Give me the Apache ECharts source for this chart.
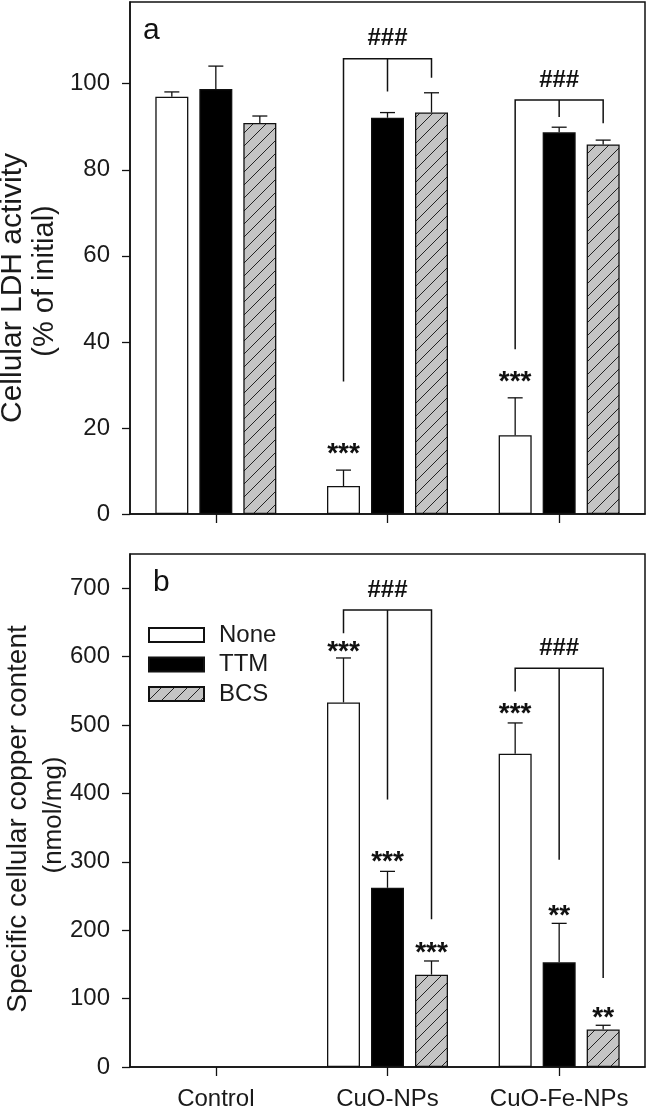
<!DOCTYPE html>
<html><head><meta charset="utf-8">
<script src="https://cdn.jsdelivr.net/npm/echarts@6/dist/echarts.min.js"></script>
<style>html,body{margin:0;padding:0;background:#fff}#c{width:648px;height:1111px}</style>
</head><body><div id="c"></div>
<script>
const categories = ['Control', 'CuO-NPs', 'CuO-Fe-NPs'];
const seriesNames = ['None', 'TTM', 'BCS'];
// panel a: cellular LDH activity (% of initial)
const ldhNone = [97.0, 6.5, 18.3];
const ldhNoneErr = [1.1, 3.7, 8.7];
const ldhTTM = [98.8, 92.1, 88.7];
const ldhTTMErr = [5.3, 1.2, 1.2];
const ldhBCS = [90.9, 93.3, 85.9];
const ldhBCSErr = [1.6, 4.6, 1.0];
// panel b: specific cellular copper content (nmol/mg)
const cuNone = [null, 533, 458];
const cuNoneErr = [null, 65, 45];
const cuTTM = [null, 262, 153];
const cuTTMErr = [null, 24, 57];
const cuBCS = [null, 135, 55];
const cuBCSErr = [null, 20, 6];
// tick labels
const ldhTicks = [0, 20, 40, 60, 80, 100];
const cuTicks = [0, 100, 200, 300, 400, 500, 600, 700];
// significance brackets: [category, top, leg end None, leg end TTM, leg end BCS]
const bracketsA = [[1, 105.8, 30.8, 98.2, 101.4], [2, 96.2, 38.3, 92.3, 90.8]];
const bracketsB = [[1, 668, 634, 391, 216], [2, 583, 549, 303, 130]];
// significance labels: [category, bar index, value, text]
const marksA = [[1, 1, 110.6, '###'], [2, 1, 100.9, '###'], [1, 0, 15.6, '***'], [2, 0, 32.3, '***']];
const marksB = [[1, 1, 697, '###'], [2, 1, 612, '###'],
  [1, 0, 616, '***'], [1, 1, 310, '***'], [1, 2, 177, '***'],
  [2, 0, 526, '***'], [2, 1, 230, '**'], [2, 2, 81, '**']];

const FONT = '"Liberation Sans", Arial, Helvetica, sans-serif';
const BAR_W = 33, BAR_GAP = 11, PITCH = BAR_W + BAR_GAP, CAP = 15;
const INK = '#111';

function hatch() {
  const s = 13, c = document.createElement('canvas');
  c.width = s; c.height = s;
  const g = c.getContext('2d');
  g.fillStyle = '#c4c4c4'; g.fillRect(0, 0, s, s);
  g.strokeStyle = '#222'; g.lineWidth = 1;
  g.beginPath();
  g.moveTo(-1, s + 1); g.lineTo(s + 1, -1);
  g.moveTo(-1, 1); g.lineTo(1, -1);
  g.moveTo(s - 1, s + 1); g.lineTo(s + 1, s - 1);
  g.stroke();
  return {image: c, repeat: 'repeat'};
}
const barStyles = [
  {color: '#fff', borderColor: INK, borderWidth: 1.3},
  {color: '#000', borderColor: INK, borderWidth: 1.3},
  {color: hatch(), borderColor: INK, borderWidth: 1.3}
];

function barSeries(g, name, idx, vals) {
  return {type: 'bar', name, xAxisIndex: g, yAxisIndex: g, data: vals, barWidth: BAR_W,
    barGap: (BAR_GAP / BAR_W * 100) + '%', itemStyle: barStyles[idx], z: 2, silent: true};
}
function errSeries(g, idx, means, errs) {
  const data = [];
  means.forEach((m, i) => { if (m != null) data.push([i, m, m + errs[i]]); });
  return {type: 'custom', xAxisIndex: g, yAxisIndex: g, z: 3, silent: true, data,
    renderItem(p, api) {
      const b = api.coord([api.value(0), api.value(1)]);
      const t = api.coord([api.value(0), api.value(2)]);
      const x = b[0] + (idx - 1) * PITCH;
      const st = {stroke: INK, lineWidth: 1.3};
      return {type: 'group', children: [
        {type: 'line', shape: {x1: x, y1: b[1], x2: x, y2: t[1]}, style: st},
        {type: 'line', shape: {x1: x - CAP / 2, y1: t[1], x2: x + CAP / 2, y2: t[1]}, style: st}
      ]};
    }};
}
function bracketSeries(g, data) {
  return {type: 'custom', xAxisIndex: g, yAxisIndex: g, z: 4, silent: true, data,
    renderItem(p, api) {
      const c = api.value(0);
      const top = api.coord([c, api.value(1)]);
      const xs = [0, 1, 2].map(i => top[0] + (i - 1) * PITCH);
      const ly = [2, 3, 4].map(k => api.coord([c, api.value(k)])[1]);
      const st = {stroke: INK, lineWidth: 1.5, fill: null};
      return {type: 'group', children: [
        {type: 'polyline', shape: {points: [[xs[0], ly[0]], [xs[0], top[1]], [xs[2], top[1]], [xs[2], ly[2]]]}, style: st},
        {type: 'line', shape: {x1: xs[1], y1: top[1], x2: xs[1], y2: ly[1]}, style: st}
      ]};
    }};
}
function markSeries(g, data) {
  return {type: 'custom', xAxisIndex: g, yAxisIndex: g, z: 5, silent: true,
    data: data.map(d => [d[0], d[1], d[2]]),
    renderItem(p, api) {
      const d = data[p.dataIndex];
      const pt = api.coord([d[0], d[2]]);
      const star = d[3].indexOf('*') >= 0;
      return {type: 'text', x: pt[0] + (d[1] - 1) * PITCH, y: pt[1] + (star ? 7 : 0),
        style: {text: d[3], font: 'bold ' + (star ? 28 : 24) + 'px ' + FONT, fill: INK,
          textAlign: 'center', textVerticalAlign: 'middle'}};
    }};
}

const axisLine = {show: true, lineStyle: {color: INK, width: 1.5}};
const chart = echarts.init(document.getElementById('c'), null, {renderer: 'canvas'});
chart.setOption({
  animation: false,
  backgroundColor: '#fff',
  grid: [
    {left: 130, right: 3, top: 2, height: 512, show: true, borderColor: INK, borderWidth: 1.5, backgroundColor: 'transparent'},
    {left: 130, right: 3, top: 554, height: 513, show: true, borderColor: INK, borderWidth: 1.5, backgroundColor: 'transparent'}
  ],
  xAxis: [
    {type: 'category', gridIndex: 0, data: categories, axisLine,
      axisTick: {show: true, alignWithLabel: true, interval: 0, length: 9, lineStyle: {color: INK, width: 1.3}},
      axisLabel: {show: false, interval: 0}, splitLine: {show: false}},
    {type: 'category', gridIndex: 1, data: categories, axisLine,
      axisTick: {show: true, alignWithLabel: true, interval: 0, length: 9, lineStyle: {color: INK, width: 1.3}},
      axisLabel: {show: true, interval: 0, hideOverlap: false, margin: 20, fontSize: 24, fontFamily: FONT, color: '#1a1a1a'},
      splitLine: {show: false}}
  ],
  yAxis: [
    {type: 'value', gridIndex: 0, min: 0, max: 119, interval: 20, axisLine,
      axisTick: {show: true, length: 8, customValues: ldhTicks, lineStyle: {color: INK, width: 1.3}},
      axisLabel: {margin: 20, fontSize: 24, fontFamily: FONT, color: '#1a1a1a', customValues: ldhTicks},
      splitLine: {show: false}},
    {type: 'value', gridIndex: 1, min: 0, max: 750, interval: 100, axisLine,
      axisTick: {show: true, length: 8, customValues: cuTicks, lineStyle: {color: INK, width: 1.3}},
      axisLabel: {margin: 20, fontSize: 24, fontFamily: FONT, color: '#1a1a1a', customValues: cuTicks},
      splitLine: {show: false}}
  ],
  legend: {
    data: seriesNames, orient: 'vertical', left: 148, top: 623, padding: 0, itemGap: 5.5,
    itemWidth: 55, itemHeight: 14, icon: 'rect', selectedMode: false,
    textStyle: {fontSize: 24, fontFamily: FONT, color: '#1a1a1a', lineHeight: 24, padding: [0, 0, 0, 10]}
  },
  graphic: [
    {type: 'text', x: 143, y: 31, style: {text: 'a', font: '30px ' + FONT, fill: INK, textVerticalAlign: 'middle'}},
    {type: 'text', x: 153, y: 583, style: {text: 'b', font: '30px ' + FONT, fill: INK, textVerticalAlign: 'middle'}},
    {type: 'text', x: 13, y: 288, rotation: Math.PI / 2,
      style: {text: 'Cellular LDH activity', font: '30px ' + FONT, fill: '#1a1a1a', textAlign: 'center', textVerticalAlign: 'middle'}},
    {type: 'text', x: 45, y: 281, rotation: Math.PI / 2,
      style: {text: '(% of initial)', font: '29px ' + FONT, fill: '#1a1a1a', textAlign: 'center', textVerticalAlign: 'middle'}},
    {type: 'text', x: 18, y: 819, rotation: Math.PI / 2,
      style: {text: 'Specific cellular copper content', font: '28px ' + FONT, fill: '#1a1a1a', textAlign: 'center', textVerticalAlign: 'middle'}},
    {type: 'text', x: 54, y: 815, rotation: Math.PI / 2,
      style: {text: '(nmol/mg)', font: '26px ' + FONT, fill: '#1a1a1a', textAlign: 'center', textVerticalAlign: 'middle'}}
  ],
  series: [
    barSeries(0, 'None', 0, ldhNone), barSeries(0, 'TTM', 1, ldhTTM), barSeries(0, 'BCS', 2, ldhBCS),
    barSeries(1, 'None', 0, cuNone), barSeries(1, 'TTM', 1, cuTTM), barSeries(1, 'BCS', 2, cuBCS),
    errSeries(0, 0, ldhNone, ldhNoneErr), errSeries(0, 1, ldhTTM, ldhTTMErr), errSeries(0, 2, ldhBCS, ldhBCSErr),
    errSeries(1, 0, cuNone, cuNoneErr), errSeries(1, 1, cuTTM, cuTTMErr), errSeries(1, 2, cuBCS, cuBCSErr),
    bracketSeries(0, bracketsA), bracketSeries(1, bracketsB),
    markSeries(0, marksA), markSeries(1, marksB)
  ]
});
</script></body></html>
